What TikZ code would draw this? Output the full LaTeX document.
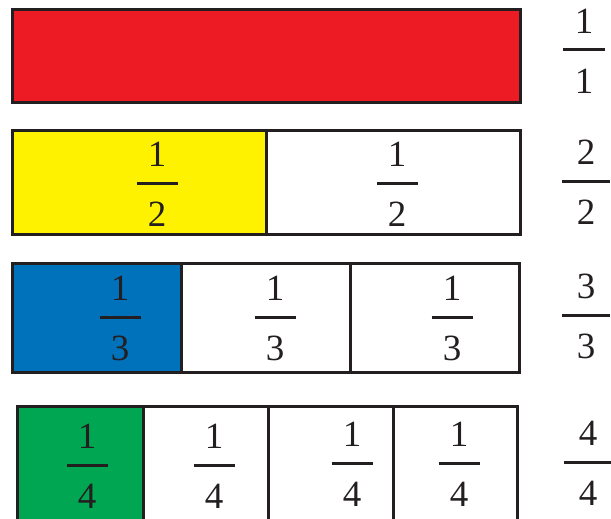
\documentclass[tikz,border=0pt]{standalone}
\usepackage{fontspec}
\setmainfont{Liberation Serif}
\usetikzlibrary{positioning}
\definecolor{inkcol}{RGB}{35,31,32}
\definecolor{redcol}{RGB}{237,28,36}
\definecolor{yelcol}{RGB}{255,242,0}
\definecolor{bluecol}{RGB}{0,114,188}
\definecolor{greencol}{RGB}{0,166,81}

% name, x, y of the bar, numerator, denominator, half width of the bar
\newcommand{\fracmark}[6]{%
  \node[digit, anchor=south] (#1n) at (#2,#3-16) {#4};
  \node[digit, anchor=north] (#1d) at (#2,#3+19) {#5};
  \draw[fbar] (#2-#6,#3) -- (#2+#6,#3);}

\begin{document}
\begin{tikzpicture}[x=1pt, y=-1pt,
    cell/.style={draw=inkcol, line width=3pt},
    digit/.style={inner sep=0pt, text=inkcol, font=\fontsize{37}{40}\selectfont},
    fbar/.style={draw=inkcol, line width=3pt}]

    \useasboundingbox (0,0) rectangle (611,519);
    \clip (0,0) rectangle (611,519);

    % whole
    \draw[cell, fill=redcol] (12,10) rectangle (520,103);
    \fracmark{r1}{584}{50}{1}{1}{21}

    % halves
    \draw[cell, fill=yelcol] (12,130) rectangle (266,234);
    \draw[cell] (266,130) rectangle (520,234);
    \fracmark{a2}{157}{183}{1}{2}{20.5}
    \fracmark{b2}{397}{183}{1}{2}{20.5}
    \fracmark{r2}{586}{181}{2}{2}{24}

    % thirds
    \draw[cell, fill=bluecol] (12,263) rectangle (181,372);
    \draw[cell] (181,263) rectangle (350,372);
    \draw[cell] (350,263) rectangle (519,372);
    \fracmark{a3}{120}{317}{1}{3}{20.5}
    \fracmark{b3}{275}{317}{1}{3}{20.5}
    \fracmark{c3}{452}{317}{1}{3}{20.5}
    \fracmark{r3}{586}{315}{3}{3}{24}

    % quarters
    \draw[cell, fill=greencol] (17,406) rectangle (143,545);
    \draw[cell] (143,406) rectangle (268,545);
    \draw[cell] (268,406) rectangle (393,545);
    \draw[cell] (393,406) rectangle (517,545);
    \fracmark{a4}{87}{465}{1}{4}{20.5}
    \fracmark{b4}{214}{465}{1}{4}{20.5}
    \fracmark{c4}{352}{463}{1}{4}{20.5}
    \fracmark{d4}{459}{463}{1}{4}{20.5}
    \fracmark{r4}{588}{462}{4}{4}{24}
  \end{tikzpicture}
\end{document}
